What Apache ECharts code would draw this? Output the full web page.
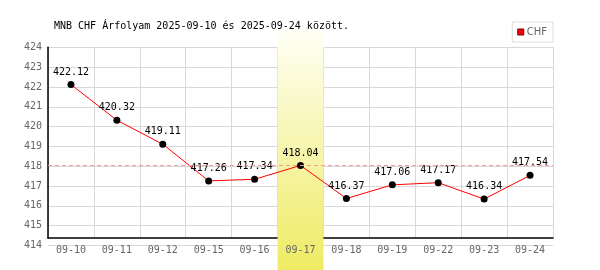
<!DOCTYPE html>
<html><head><meta charset="utf-8">
<script src="https://cdn.jsdelivr.net/npm/echarts@6/dist/echarts.min.js"></script>
<style>html,body{margin:0;padding:0;background:#fff}#c{width:600px;height:270px}</style>
</head><body><div id="c"></div>
<script>
const categories = ['09-10','09-11','09-12','09-15','09-16','09-17','09-18','09-19','09-22','09-23','09-24'];
const chfValues = [422.12,420.32,419.11,417.26,417.34,418.04,416.37,417.06,417.17,416.34,417.54];
const highlight = [null,null,null,null,null,1,null,null,null,null,null];
const yMin = 414, yMax = 424, yStep = 1;
const titleText = 'MNB CHF Árfolyam 2025-09-10 és 2025-09-24 között.';

const mono = 'DejaVu Sans Mono';
const chart = echarts.init(document.getElementById('c'), null, {renderer:'canvas'});
chart.setOption({
  animation:false,
  backgroundColor:'#fff',
  title:{text:titleText,left:54,top:21,padding:0,textStyle:{fontFamily:mono,fontSize:10,fontWeight:'normal',color:'#000'}},
  legend:{right:47,top:22,padding:[5,6,5,5],borderColor:'#ddd',borderWidth:1,itemWidth:6,itemHeight:6,itemGap:4,
    textStyle:{fontFamily:'DejaVu Sans',fontSize:10,color:'#666',padding:[0,0,0,-2]},
    data:[{name:'CHF',icon:'rect',itemStyle:{color:'#f00',borderColor:'#700',borderWidth:1}}]},
  grid:[
    {left:48,right:47,top:47.3,bottom:24.5},
    {left:48,right:47,top:47.3,bottom:32},
    {left:48,right:47,top:30,bottom:0}
  ],
  xAxis:[
    {type:'category',gridIndex:0,data:categories,boundaryGap:true,z:5,
      axisLine:{show:false},axisTick:{show:false},splitLine:{show:false},
      axisLabel:{margin:0,fontFamily:mono,fontSize:10,color:'#666'}},
    {type:'category',gridIndex:1,data:categories,boundaryGap:true,
      axisLine:{show:true,lineStyle:{color:'#000',width:1.5}},axisTick:{show:false},axisLabel:{show:false},
      splitLine:{show:true,interval:0,lineStyle:{color:'#d8d8d8',width:1}}},
    {type:'category',gridIndex:2,data:categories,show:false}
  ],
  yAxis:[
    {type:'value',gridIndex:0,min:yMin,max:yMax,interval:yStep,
      axisLine:{show:false},axisTick:{show:false},
      axisLabel:{margin:6,fontFamily:mono,fontSize:10,color:'#666'},
      splitLine:{show:true,lineStyle:{color:'#d8d8d8',width:1}}},
    {type:'value',gridIndex:1,min:0,max:1,
      axisLine:{show:true,lineStyle:{color:'#000',width:1.5}},axisTick:{show:false},axisLabel:{show:false},splitLine:{show:false}},
    {type:'value',gridIndex:2,min:0,max:1,show:false}
  ],
  series:[
    {name:'avg',type:'line',xAxisIndex:0,yAxisIndex:0,data:chfValues,z:1,silent:true,
      symbol:'none',lineStyle:{width:0,color:'transparent'},
      markLine:{silent:true,symbol:'none',label:{show:false},
        lineStyle:{color:'#f29c9c',opacity:1,type:[4,3],width:1},data:[{type:'average'}]}},
    {name:'hl',type:'bar',xAxisIndex:2,yAxisIndex:2,data:highlight,barWidth:'100%',z:2,silent:true,
      itemStyle:{color:new echarts.graphic.LinearGradient(0,0,0,1,[{offset:0,color:'#fffff6'},{offset:1,color:'#eeeb62'}])}},
    {name:'CHF',type:'line',xAxisIndex:0,yAxisIndex:0,data:chfValues,z:3,
      symbol:'circle',symbolSize:7,itemStyle:{color:'#000'},
      lineStyle:{color:'#f00',width:1},
      label:{show:true,position:'top',distance:4,fontFamily:mono,fontSize:10,color:'#000',
        formatter:p=>p.value.toFixed(2)}}
  ]
});
</script></body></html>
